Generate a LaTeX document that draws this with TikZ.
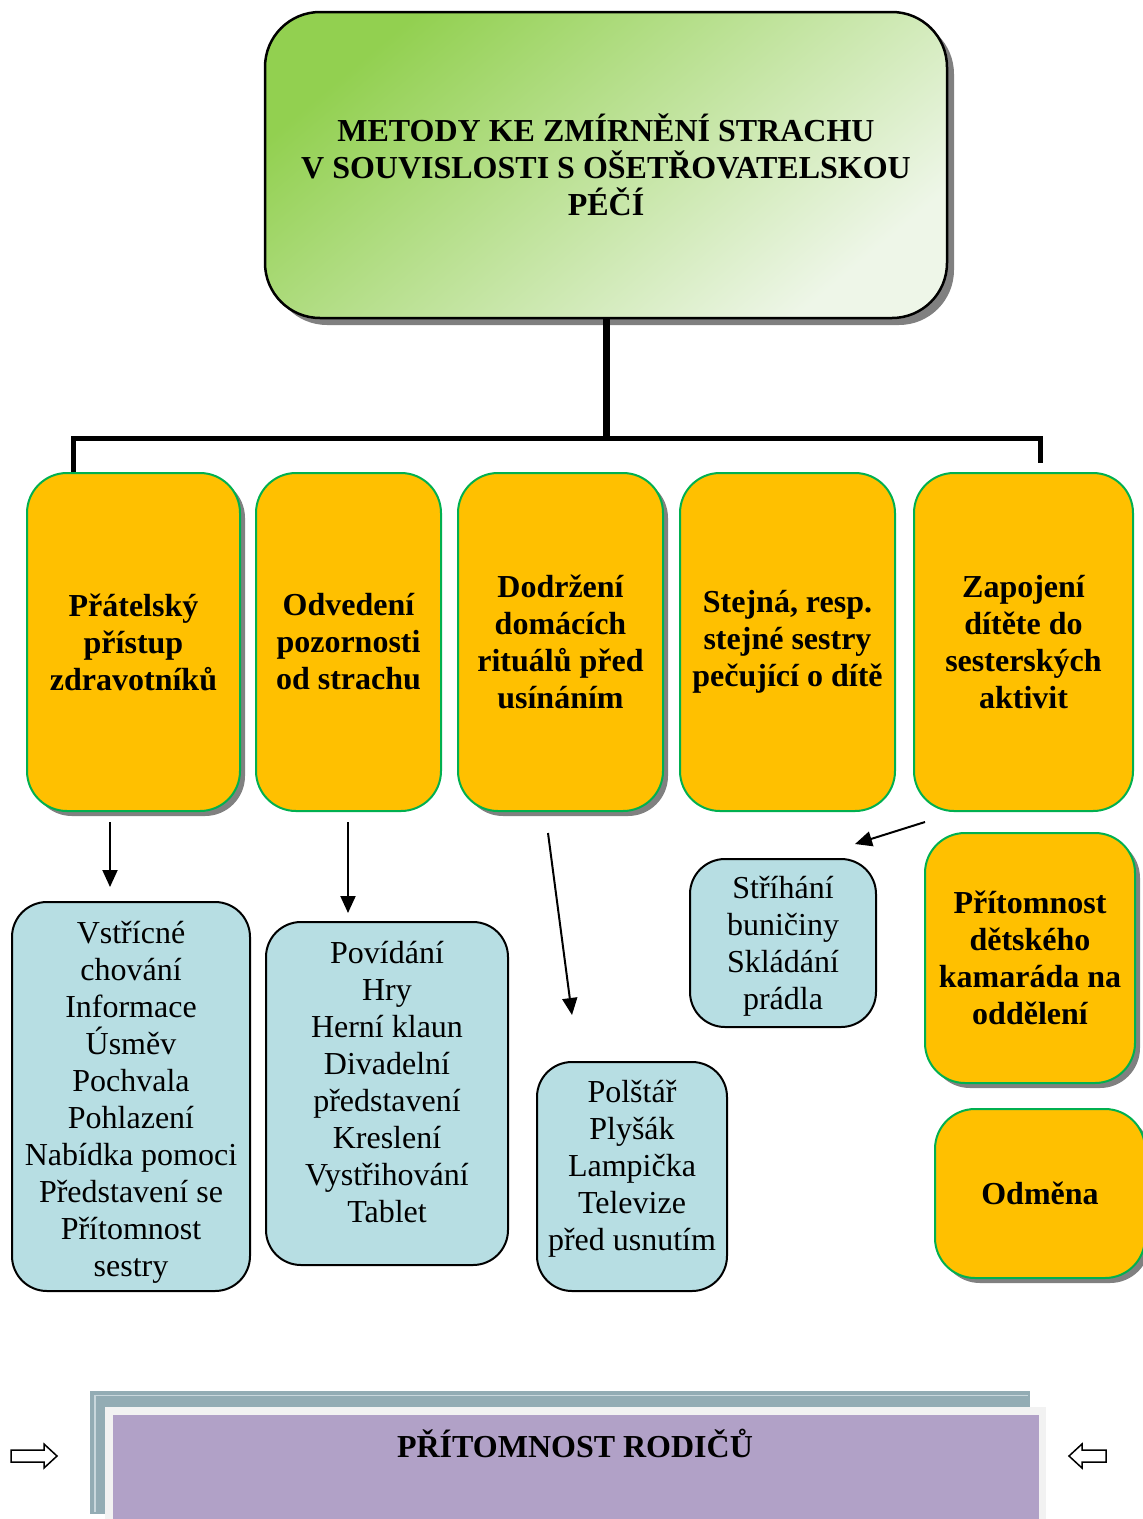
\documentclass[tikz,border=0pt]{standalone}
\usepackage{fontspec}
\setmainfont{Liberation Serif}
\usetikzlibrary{shadows,arrows.meta}

\definecolor{amber}{HTML}{FFC000}
\definecolor{leafgreen}{HTML}{00B050}
\definecolor{aqua}{HTML}{B7DEE3}
\definecolor{lime}{HTML}{92D050}
\definecolor{limepale}{HTML}{EEF6E8}
\definecolor{slate}{HTML}{93ACB4}
\definecolor{slatelight}{HTML}{C9D7DC}
\definecolor{paper}{HTML}{F2F2F2}
\definecolor{lilac}{HTML}{B1A1C7}
\definecolor{shadowgray}{HTML}{808080}

\tikzset{
  headbox/.style={draw=black, line width=2.5pt, rounded corners=55pt, inner sep=0pt,
    top color=lime, bottom color=limepale, shading angle=40,
    font=\fontsize{32}{37}\selectfont\bfseries, align=center,
    drop shadow={shadow xshift=7pt, shadow yshift=-7pt, fill=shadowgray, opacity=1}},
  method/.style={draw=leafgreen, line width=2pt, fill=amber, rounded corners=40pt,
    inner sep=0pt, font=\fontsize{32}{37}\selectfont\bfseries, align=center},
  shadowed/.style={drop shadow={shadow xshift=5pt, shadow yshift=-5pt, fill=shadowgray, opacity=1}},
  tipbox/.style={draw=black, line width=2pt, fill=aqua, rounded corners=35pt, inner sep=0pt},
  tiptext/.style={font=\fontsize{32}{37}\selectfont, align=center, anchor=north, inner sep=0pt},
  link/.style={-{Triangle[length=17pt,width=15pt]}, line width=2pt},
  bus/.style={line width=5pt},
  trunk/.style={line width=7pt},
  hollowarrow/.style={draw=black, line width=1.5pt, fill=white},
}

% fixed height for the first line of the example lists
\newcommand{\firstline}{\rule{0pt}{30pt}}

\begin{document}
\begin{tikzpicture}[x=1pt, y=-1pt]
  \useasboundingbox (0,0) rectangle (1143,1519);

  % heading
  \node[headbox, minimum width=682pt, minimum height=306pt] (top) at (606,165)
    {METODY KE ZMÍRNĚNÍ STRACHU\\V SOUVISLOSTI S OŠETŘOVATELSKOU\\PÉČÍ};

  % five methods
  \node[method, shadowed, minimum width=213pt, minimum height=338pt] (p1) at (133.5,642)
    {Přátelský\\přístup\\zdravotníků};
  \node[method, minimum width=185pt, minimum height=338pt] (p2) at (348.5,642)
    {Odvedení\\pozornosti\\od strachu};
  \node[method, shadowed, minimum width=205pt, minimum height=338pt] (p3) at (560.5,642)
    {Dodržení\\domácích\\rituálů před\\usínáním};
  \node[method, minimum width=215pt, minimum height=338pt] (p4) at (787.5,642)
    {\raisebox{-4pt}{Stejná, resp.}\\\raisebox{-4pt}{stejné sestry}\\\raisebox{-4pt}{pečující o dítě}};
  \node[method, minimum width=219pt, minimum height=338pt] (p5) at (1023.5,642)
    {Zapojení\\dítěte do\\sesterských\\aktivit};

  % tree connectors
  \coordinate (hub) at (606,438);
  \coordinate (busL) at (73,438);
  \coordinate (busR) at (1040,438);
  \coordinate (busRend) at (1040,463);
  \draw[trunk] (top.south) -- (hub);
  \draw[bus] (busL |- p1.north) -- (busL) -- (busR) -- (busRend);

  % further methods
  \node[method, shadowed, minimum width=210pt, minimum height=250pt] (friend) at (1030,958)
    {Přítomnost\\dětského\\kamaráda na\\oddělení};
  \node[method, shadowed, minimum width=210pt, minimum height=169pt] (reward) at (1040,1193.5)
    {Odměna};

  % examples
  \node[tipbox, minimum width=238pt, minimum height=389pt] (b1) at (131,1096.5) {};
  \node[tiptext, yshift=-12pt] (b1t) at (b1.north)
    {\firstline Vstřícné\\chování\\Informace\\Úsměv\\Pochvala\\Pohlazení\\Nabídka pomoci\\Představení se\\Přítomnost\\sestry};
  \node[tipbox, minimum width=242pt, minimum height=343pt] (b2) at (387,1093.5) {};
  \node[tiptext, yshift=-12pt] (b2t) at (b2.north)
    {\firstline Povídání\\Hry\\Herní klaun\\Divadelní\\představení\\Kreslení\\Vystřihování\\Tablet};
  \node[tipbox, minimum width=190pt, minimum height=229pt] (b3) at (632,1176.5) {};
  \node[tiptext, yshift=-11pt] (b3t) at (b3.north)
    {\firstline Polštář\\Plyšák\\Lampička\\Televize\\před usnutím};
  \node[tipbox, minimum width=186pt, minimum height=168pt] (b4) at (783,943) {};
  \node[tiptext, yshift=-10pt] (b4t) at (b4.north)
    {\firstline Stříhání\\buničiny\\Skládání\\prádla};

  % pointers to the examples
  \coordinate (a1s) at (110,822);  \coordinate (a1e) at (110,887);
  \coordinate (a2s) at (348,822);  \coordinate (a2e) at (348,913);
  \coordinate (a3s) at (548,833);  \coordinate (a3e) at (572,1015);
  \coordinate (a4s) at (925,822);  \coordinate (a4e) at (855,844);
  \draw[link] (a1s) -- (a1e);
  \draw[link] (a2s) -- (a2e);
  \draw[link] (a3s) -- (a3e);
  \draw[link] (a4s) -- (a4e);

  % parents banner
  \fill[slate] (90,1391) rectangle (1030,1514);
  \draw[slatelight, line width=1.2pt] (95,1512) -- (95,1395.5) -- (1028,1395.5);
  \fill[paper] (105,1407) rectangle (1046,1519);
  \fill[lilac] (113,1415) rectangle (1039,1519);
  \node[inner sep=0pt, font=\fontsize{32}{37}\selectfont\bfseries] (parents) at (575,1443)
    {PŘÍTOMNOST RODIČŮ};

  % side arrows
  \draw[hollowarrow] (11,1450) -- (44,1450) -- (44,1444) -- (57,1456) -- (44,1468)
    -- (44,1462) -- (11,1462) -- cycle;
  \draw[hollowarrow] (1106,1450) -- (1082,1450) -- (1082,1444) -- (1069,1456)
    -- (1082,1468) -- (1082,1462) -- (1106,1462) -- cycle;
\end{tikzpicture}
\end{document}
